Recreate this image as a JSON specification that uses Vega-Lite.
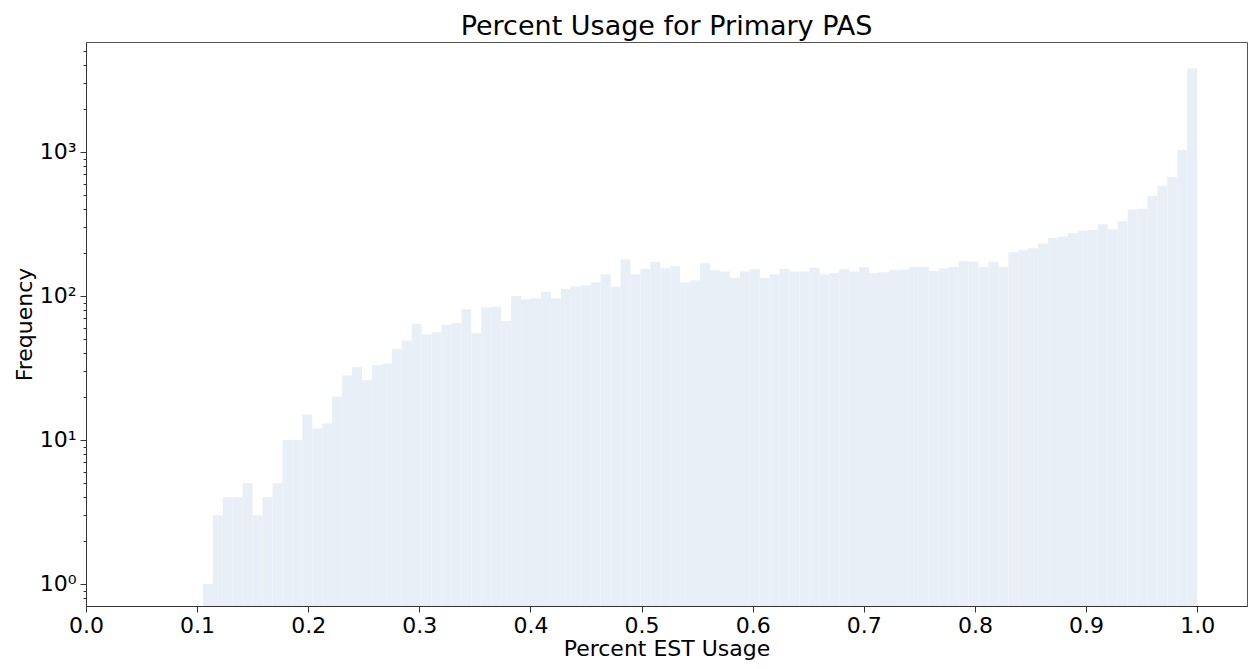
{
  "$schema": "https://vega.github.io/schema/vega-lite/v6.json",
  "width": 1161,
  "height": 564,
  "autosize": "none",
  "padding": {"left": 86, "top": 42, "right": 2, "bottom": 63},
  "background": "white",
  "config": {
    "font": "DejaVu Sans",
    "view": {"stroke": "#555", "strokeWidth": 1},
    "axis": {"labelFont": "DejaVu Sans", "titleFont": "DejaVu Sans", "labelFontSize": 22, "titleFontSize": 22, "titleFontWeight": "normal", "labelColor": "#000", "titleColor": "#000", "domainColor": "#333", "tickColor": "#333", "grid": false}
  },
  "title": {"text": "Percent Usage for Primary PAS", "font": "DejaVu Sans", "fontSize": 27, "fontWeight": "normal", "color": "#000", "anchor": "middle", "offset": -1},
  "data": {"values": [
    {"bin_start": 0.1052, "bin_end": 0.11415, "count": 1},
    {"bin_start": 0.11415, "bin_end": 0.1231, "count": 3},
    {"bin_start": 0.1231, "bin_end": 0.13204, "count": 4},
    {"bin_start": 0.13204, "bin_end": 0.14099, "count": 4},
    {"bin_start": 0.14099, "bin_end": 0.14994, "count": 5},
    {"bin_start": 0.14994, "bin_end": 0.15889, "count": 3},
    {"bin_start": 0.15889, "bin_end": 0.16784, "count": 4},
    {"bin_start": 0.16784, "bin_end": 0.17678, "count": 5},
    {"bin_start": 0.17678, "bin_end": 0.18573, "count": 10},
    {"bin_start": 0.18573, "bin_end": 0.19468, "count": 10},
    {"bin_start": 0.19468, "bin_end": 0.20363, "count": 15},
    {"bin_start": 0.20363, "bin_end": 0.21258, "count": 12},
    {"bin_start": 0.21258, "bin_end": 0.22152, "count": 13},
    {"bin_start": 0.22152, "bin_end": 0.23047, "count": 20},
    {"bin_start": 0.23047, "bin_end": 0.23942, "count": 28},
    {"bin_start": 0.23942, "bin_end": 0.24837, "count": 32},
    {"bin_start": 0.24837, "bin_end": 0.25732, "count": 26},
    {"bin_start": 0.25732, "bin_end": 0.26626, "count": 33},
    {"bin_start": 0.26626, "bin_end": 0.27521, "count": 34},
    {"bin_start": 0.27521, "bin_end": 0.28416, "count": 43},
    {"bin_start": 0.28416, "bin_end": 0.29311, "count": 49},
    {"bin_start": 0.29311, "bin_end": 0.30206, "count": 64},
    {"bin_start": 0.30206, "bin_end": 0.311, "count": 54},
    {"bin_start": 0.311, "bin_end": 0.31995, "count": 56},
    {"bin_start": 0.31995, "bin_end": 0.3289, "count": 63},
    {"bin_start": 0.3289, "bin_end": 0.33785, "count": 65},
    {"bin_start": 0.33785, "bin_end": 0.3468, "count": 81},
    {"bin_start": 0.3468, "bin_end": 0.35574, "count": 55},
    {"bin_start": 0.35574, "bin_end": 0.36469, "count": 83},
    {"bin_start": 0.36469, "bin_end": 0.37364, "count": 84},
    {"bin_start": 0.37364, "bin_end": 0.38259, "count": 67},
    {"bin_start": 0.38259, "bin_end": 0.39154, "count": 100},
    {"bin_start": 0.39154, "bin_end": 0.40048, "count": 95},
    {"bin_start": 0.40048, "bin_end": 0.40943, "count": 96},
    {"bin_start": 0.40943, "bin_end": 0.41838, "count": 107},
    {"bin_start": 0.41838, "bin_end": 0.42733, "count": 96},
    {"bin_start": 0.42733, "bin_end": 0.43628, "count": 112},
    {"bin_start": 0.43628, "bin_end": 0.44522, "count": 117},
    {"bin_start": 0.44522, "bin_end": 0.45417, "count": 118},
    {"bin_start": 0.45417, "bin_end": 0.46312, "count": 124},
    {"bin_start": 0.46312, "bin_end": 0.47207, "count": 141},
    {"bin_start": 0.47207, "bin_end": 0.48102, "count": 116},
    {"bin_start": 0.48102, "bin_end": 0.48996, "count": 179},
    {"bin_start": 0.48996, "bin_end": 0.49891, "count": 141},
    {"bin_start": 0.49891, "bin_end": 0.50786, "count": 154},
    {"bin_start": 0.50786, "bin_end": 0.51681, "count": 173},
    {"bin_start": 0.51681, "bin_end": 0.52576, "count": 156},
    {"bin_start": 0.52576, "bin_end": 0.5347, "count": 161},
    {"bin_start": 0.5347, "bin_end": 0.54365, "count": 124},
    {"bin_start": 0.54365, "bin_end": 0.5526, "count": 128},
    {"bin_start": 0.5526, "bin_end": 0.56155, "count": 169},
    {"bin_start": 0.56155, "bin_end": 0.5705, "count": 151},
    {"bin_start": 0.5705, "bin_end": 0.57944, "count": 148},
    {"bin_start": 0.57944, "bin_end": 0.58839, "count": 134},
    {"bin_start": 0.58839, "bin_end": 0.59734, "count": 148},
    {"bin_start": 0.59734, "bin_end": 0.60629, "count": 154},
    {"bin_start": 0.60629, "bin_end": 0.61524, "count": 134},
    {"bin_start": 0.61524, "bin_end": 0.62418, "count": 141},
    {"bin_start": 0.62418, "bin_end": 0.63313, "count": 154},
    {"bin_start": 0.63313, "bin_end": 0.64208, "count": 148},
    {"bin_start": 0.64208, "bin_end": 0.65103, "count": 148},
    {"bin_start": 0.65103, "bin_end": 0.65998, "count": 157},
    {"bin_start": 0.65998, "bin_end": 0.66892, "count": 141},
    {"bin_start": 0.66892, "bin_end": 0.67787, "count": 144},
    {"bin_start": 0.67787, "bin_end": 0.68682, "count": 154},
    {"bin_start": 0.68682, "bin_end": 0.69577, "count": 148},
    {"bin_start": 0.69577, "bin_end": 0.70472, "count": 158},
    {"bin_start": 0.70472, "bin_end": 0.71366, "count": 144},
    {"bin_start": 0.71366, "bin_end": 0.72261, "count": 146},
    {"bin_start": 0.72261, "bin_end": 0.73156, "count": 151},
    {"bin_start": 0.73156, "bin_end": 0.74051, "count": 152},
    {"bin_start": 0.74051, "bin_end": 0.74946, "count": 159},
    {"bin_start": 0.74946, "bin_end": 0.7584, "count": 159},
    {"bin_start": 0.7584, "bin_end": 0.76735, "count": 149},
    {"bin_start": 0.76735, "bin_end": 0.7763, "count": 155},
    {"bin_start": 0.7763, "bin_end": 0.78525, "count": 159},
    {"bin_start": 0.78525, "bin_end": 0.7942, "count": 175},
    {"bin_start": 0.7942, "bin_end": 0.80314, "count": 173},
    {"bin_start": 0.80314, "bin_end": 0.81209, "count": 159},
    {"bin_start": 0.81209, "bin_end": 0.82104, "count": 173},
    {"bin_start": 0.82104, "bin_end": 0.82999, "count": 159},
    {"bin_start": 0.82999, "bin_end": 0.83894, "count": 201},
    {"bin_start": 0.83894, "bin_end": 0.84788, "count": 208},
    {"bin_start": 0.84788, "bin_end": 0.85683, "count": 214},
    {"bin_start": 0.85683, "bin_end": 0.86578, "count": 231},
    {"bin_start": 0.86578, "bin_end": 0.87473, "count": 253},
    {"bin_start": 0.87473, "bin_end": 0.88368, "count": 258},
    {"bin_start": 0.88368, "bin_end": 0.89262, "count": 274},
    {"bin_start": 0.89262, "bin_end": 0.90157, "count": 283},
    {"bin_start": 0.90157, "bin_end": 0.91052, "count": 287},
    {"bin_start": 0.91052, "bin_end": 0.91947, "count": 315},
    {"bin_start": 0.91947, "bin_end": 0.92842, "count": 290},
    {"bin_start": 0.92842, "bin_end": 0.93736, "count": 330},
    {"bin_start": 0.93736, "bin_end": 0.94631, "count": 398},
    {"bin_start": 0.94631, "bin_end": 0.95526, "count": 403},
    {"bin_start": 0.95526, "bin_end": 0.96421, "count": 495},
    {"bin_start": 0.96421, "bin_end": 0.97316, "count": 583},
    {"bin_start": 0.97316, "bin_end": 0.9821, "count": 670},
    {"bin_start": 0.9821, "bin_end": 0.99105, "count": 1032},
    {"bin_start": 0.99105, "bin_end": 1.0, "count": 3812}
  ]},
  "mark": {"type": "rect", "color": "#e8eff7", "opacity": 1, "strokeWidth": 0, "clip": true},
  "encoding": {
    "x": {
      "field": "bin_start", "type": "quantitative",
      "scale": {"domain": [0, 1.0448], "nice": false, "zero": false},
      "axis": {"title": "Percent EST Usage", "values": [0, 0.1, 0.2, 0.3, 0.4, 0.5, 0.6, 0.7, 0.8, 0.9, 1.0], "format": ".1f", "tickSize": 6, "labelPadding": 3, "titlePadding": 2, "labelFlush": false, "labelOverlap": false}
    },
    "x2": {"field": "bin_end"},
    "y": {
      "field": "count", "type": "quantitative",
      "scale": {"type": "log", "domain": [0.703, 5800], "nice": false},
      "axis": {
        "title": "Frequency",
        "values": [0.8, 0.9, 1, 2, 3, 4, 5, 6, 7, 8, 9, 10, 20, 30, 40, 50, 60, 70, 80, 90, 100, 200, 300, 400, 500, 600, 700, 800, 900, 1000, 2000, 3000, 4000, 5000],
        "labelExpr": "datum.value == 1 ? '10⁰' : datum.value == 10 ? '10¹' : datum.value == 100 ? '10²' : datum.value == 1000 ? '10³' : ''",
        "tickSize": {"condition": {"test": "datum.value == 1 || datum.value == 10 || datum.value == 100 || datum.value == 1000", "value": 6}, "value": 3},
        "labelPadding": 4,
        "titlePadding": 3,
        "labelOverlap": false,
        "labelFlush": false
      }
    },
    "y2": {"datum": 0.703}
  }
}
